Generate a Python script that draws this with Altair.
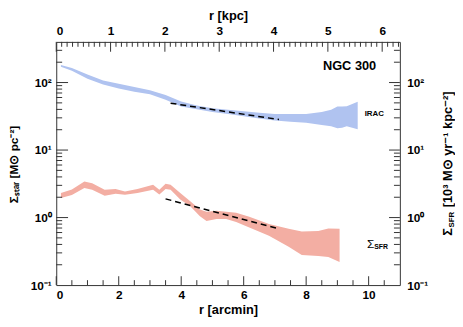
import altair as alt
import pandas as pd

# ---- data ----
blue_r  = [0.15, 0.5, 1.0, 1.5, 2.0, 2.5, 3.0, 3.5, 4.0, 4.5, 5.0, 5.5, 6.0, 6.5, 7.0, 7.5, 8.0, 8.5, 8.8, 9.0, 9.15, 9.3, 9.65]
blue_lo = [172, 150, 114, 93.6, 81.8, 73.3, 66.9, 55.4, 44.3, 40.1, 36.6, 34.2, 31.6, 29.3, 27.4, 26.2, 25.3, 23.4, 22.6, 21.0, 21.4, 22.6, 20.3]
blue_hi = [182, 164, 131, 107, 95.6, 85.8, 76.6, 65.4, 52.4, 45.7, 41.7, 39.6, 37.4, 35.8, 34.2, 34.2, 34.2, 36.6, 39.6, 44.2, 44.0, 44.7, 52.0]

red_r  = [0.15, 0.5, 0.9, 1.15, 1.55, 1.9, 2.2, 2.6, 3.1, 3.3, 3.5, 3.66, 3.97, 4.29, 4.6, 4.81, 5.13, 5.44, 5.76, 6.18, 6.81, 7.44, 7.86, 8.39, 8.71, 9.07]
red_lo = [1.95, 2.15, 2.73, 2.58, 2.11, 2.25, 2.18, 2.31, 2.58, 2.20, 2.64, 2.58, 1.85, 1.47, 1.05, 0.89, 0.95, 0.95, 0.86, 0.71, 0.54, 0.37, 0.28, 0.27, 0.26, 0.22]
red_hi = [2.31, 2.60, 3.41, 3.23, 2.58, 2.64, 2.44, 2.64, 3.05, 2.58, 3.16, 3.05, 2.31, 1.75, 1.32, 1.22, 1.26, 1.22, 1.18, 1.03, 0.80, 0.68, 0.62, 0.63, 0.69, 0.68]

blue_fit_r = [3.66, 7.13]
blue_fit_v = [49.4, 28.3]
red_fit_r = [3.5, 7.13]
red_fit_v = [1.89, 0.68]

x_ticks_major = [0, 2, 4, 6, 8, 10]
x_ticks_minor = [0.5 * i for i in range(1, 22) if (0.5 * i) % 2 != 0]
kpc_ticks_major = [0, 1, 2, 3, 4, 5, 6]
kpc_ticks_minor = [round(0.1 * i, 1) for i in range(1, 64) if i % 10 != 0]
y_ticks_major = [1, 10, 100]
y_ticks_minor = [0.2, 0.3, 0.4, 0.5, 0.6, 0.7, 0.8, 0.9,
                 2, 3, 4, 5, 6, 7, 8, 9,
                 20, 30, 40, 50, 60, 70, 80, 90, 200, 300]

ARCMIN_PER_KPC = 1.739
X_MAX = 11
Y_DOM = [0.1, 400]
W, H = 349, 247
FONT = "Liberation Sans"
BLUE = "#b0c3f0"
RED = "#f3aea3"

ylabel = ("datum.value >= 100 ? '10\u00b2' : datum.value >= 10 ? '10\u00b9' : "
          "datum.value >= 1 ? '10\u2070' : '10\u207b\u00b9'")

X = alt.X("r:Q", scale=alt.Scale(domain=[0, X_MAX], nice=False, zero=False),
          axis=alt.Axis(orient="bottom", values=x_ticks_major, format="d", ticks=False,
                        grid=False, labelFont=FONT, labelFontWeight="bold", labelFontSize=12,
                        labelPadding=5, labelColor="black", domainColor="#333",
                        title="r [arcmin]", titleFont=FONT, titleFontWeight="bold",
                        titleFontSize=13, titlePadding=3, titleColor="black"))
Y_AX = alt.Axis(orient="left", values=[0.1, 1, 10, 100], labelExpr=ylabel, ticks=False, grid=False,
                labelFont=FONT, labelFontWeight="bold", labelFontSize=12, labelPadding=5,
                labelColor="black", domainColor="#333",
                title="\u03a3\u209b\u209c\u2090\u1d63 [M\u2299 pc\u207b\u00b2]", titleFont=FONT,
                titleFontWeight="bold", titleFontSize=12, titleColor="black",
                titleAngle=270, titleX=-43, titleY=124, titleAlign="center", titleBaseline="middle")
YS = alt.Scale(type="log", domain=Y_DOM, nice=False)


def Yf(field):
    return alt.Y(field, scale=YS, axis=Y_AX)


blue_df = pd.DataFrame({"r": blue_r, "lo": blue_lo, "hi": blue_hi})
red_df = pd.DataFrame({"r": red_r, "lo": red_lo, "hi": red_hi})

blue_area = alt.Chart(blue_df).mark_area(color=BLUE, opacity=1).encode(x=X, y=Yf("lo:Q"), y2="hi:Q")
red_area = alt.Chart(red_df).mark_area(color=RED, opacity=1).encode(x=X, y=Yf("lo:Q"), y2="hi:Q")

blue_fit = alt.Chart(pd.DataFrame({"r": blue_fit_r, "v": blue_fit_v})).mark_line(
    color="black", strokeDash=[6, 4], strokeWidth=1.5).encode(x=X, y=Yf("v:Q"))
red_fit = alt.Chart(pd.DataFrame({"r": red_fit_r, "v": red_fit_v})).mark_line(
    color="black", strokeDash=[6, 4], strokeWidth=1.5).encode(x=X, y=Yf("v:Q"))

labels = pd.DataFrame({"r": [9.39, 10.18], "v": [176, 34], "t": ["NGC 300", "IRAC"]})
t_ngc = alt.Chart(labels.iloc[[0]]).mark_text(font=FONT, fontWeight="bold", fontSize=13, color="black").encode(
    x=X, y=Yf("v:Q"), text="t:N")
t_irac = alt.Chart(labels.iloc[[1]]).mark_text(font=FONT, fontWeight="bold", fontSize=8, color="black").encode(
    x=X, y=Yf("v:Q"), text="t:N")
sfr_pos = pd.DataFrame({"r": [10.18], "v": [0.41], "a": ["\u03a3"], "b": ["SFR"]})
t_sig = alt.Chart(sfr_pos).mark_text(font=FONT, fontSize=12, color="black", align="right", baseline="middle").encode(
    x=X, y=Yf("v:Q"), text="a:N")
t_sfr = alt.Chart(sfr_pos).mark_text(font=FONT, fontWeight="bold", fontSize=7, color="black", align="left",
                                     baseline="middle", dy=3).encode(x=X, y=Yf("v:Q"), text="b:N")


def xticks(vals, ln):
    return alt.Chart(pd.DataFrame({"r": vals})).mark_rule(color="#333", strokeWidth=1).encode(
        x=X, y=alt.value(H), y2=alt.value(H - ln))


def yticks_left(vals, ln):
    return alt.Chart(pd.DataFrame({"v": vals})).mark_rule(color="#333", strokeWidth=1).encode(
        y=Yf("v:Q"), x=alt.value(0), x2=alt.value(ln))


main = alt.layer(blue_area, red_area, blue_fit, red_fit, t_ngc, t_irac, t_sig, t_sfr,
                 xticks(x_ticks_major, 9), xticks(x_ticks_minor, 5),
                 yticks_left(y_ticks_major, 12), yticks_left(y_ticks_minor, 6))

# ---- secondary axes (top: kpc, right: SFR) ----
XK = alt.X("k:Q", scale=alt.Scale(domain=[0, X_MAX / ARCMIN_PER_KPC], nice=False, zero=False),
           axis=alt.Axis(orient="top", values=kpc_ticks_major, format="d", ticks=False, grid=False,
                         labelFont=FONT, labelFontWeight="bold", labelFontSize=12, labelPadding=4,
                         labelColor="black", domainColor="#333",
                         title="r [kpc]", titleFont=FONT, titleFontWeight="bold", titleFontSize=13,
                         titlePadding=3, titleColor="black"))
YR_AX = alt.Axis(orient="right", values=[0.1, 1, 10, 100], labelExpr=ylabel, ticks=False, grid=False,
                 labelFont=FONT, labelFontWeight="bold", labelFontSize=12, labelPadding=7,
                 labelColor="black", domainColor="#333", title=None)


def YR(field):
    return alt.Y(field, scale=YS, axis=YR_AX)


dummy = alt.Chart(pd.DataFrame({"k": [0, 6], "v": [1, 10]})).mark_point(opacity=0).encode(
    x=XK, y=YR("v:Q"))


def kticks(vals, ln):
    return alt.Chart(pd.DataFrame({"k": vals})).mark_rule(color="#333", strokeWidth=1).encode(
        x=XK, y=alt.value(0), y2=alt.value(ln))


def yticks_right(vals, ln):
    return alt.Chart(pd.DataFrame({"v": vals})).mark_rule(color="#333", strokeWidth=1).encode(
        y=YR("v:Q"), x=alt.value(W), x2=alt.value(W - ln))


# right-hand axis title, composed so that "SFR" is a subscript
rt_text = ["\u03a3", "SFR", "[10\u00b3 M\u2299 yr\u207b\u00b9 kpc\u207b\u00b2]"]
rt_df = pd.DataFrame({"t": rt_text})
rt_sig = alt.Chart(rt_df.iloc[[0]]).mark_text(
    font=FONT, fontWeight="bold", fontSize=13, angle=270, align="left", baseline="middle", color="black"
).encode(text="t:N", x=alt.value(398), y=alt.value(197))
rt_sub = alt.Chart(rt_df.iloc[[1]]).mark_text(
    font=FONT, fontWeight="bold", fontSize=8, angle=270, align="left", baseline="middle", color="black"
).encode(text="t:N", x=alt.value(402), y=alt.value(188.5))
rt_rest = alt.Chart(rt_df.iloc[[2]]).mark_text(
    font=FONT, fontWeight="bold", fontSize=13, angle=270, align="left", baseline="middle", color="black"
).encode(text="t:N", x=alt.value(398), y=alt.value(168))

sec = alt.layer(dummy, kticks(kpc_ticks_major, 10), kticks(kpc_ticks_minor, 5),
                yticks_right(y_ticks_major, 11), yticks_right(y_ticks_minor, 6),
                rt_sig, rt_sub, rt_rest)

chart = alt.layer(main, sec).resolve_scale(x="independent", y="independent").properties(
    width=W, height=H,
    padding={"left": 49, "top": 32, "right": 56, "bottom": 30},
    autosize=alt.AutoSizeParams(type="none"),
    background="white",
).configure_view(stroke=None)

chart.save("out.html", embed_options={"renderer": "svg", "actions": False})
